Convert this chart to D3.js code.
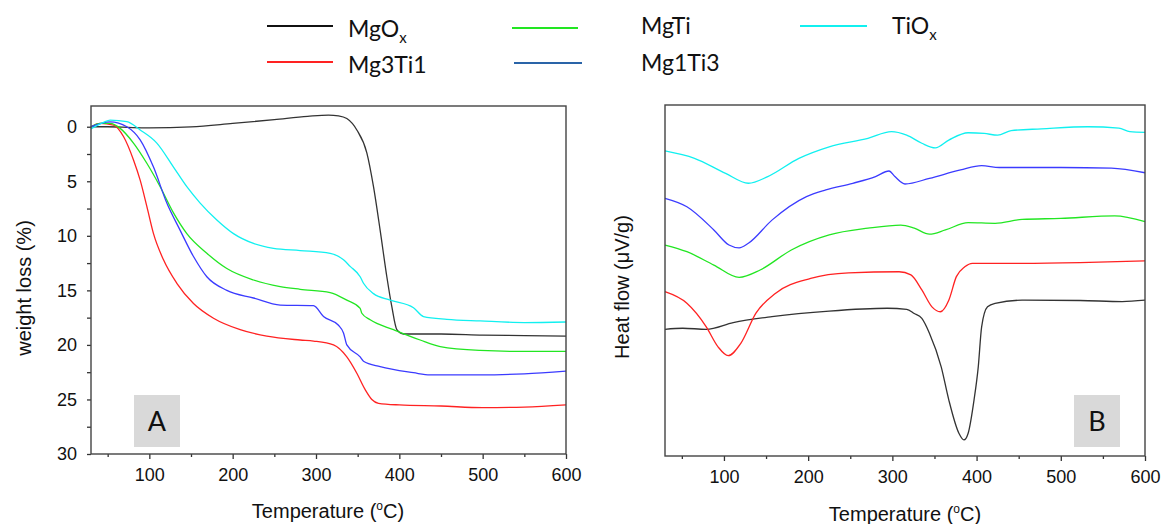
<!DOCTYPE html>
<html lang="en">
<head>
	<meta charset="UTF-8">
	<script src="https://cdn.jsdelivr.net/npm/d3@7"></script>
	<title>TGA / DSC</title>
	<style>
		body { margin: 0; background: #fff; }
		svg { display: block; }
		.tick text { font-family: "Liberation Sans", Arial, sans-serif; font-size: 18px; fill: #111; }
		.axis path, .axis line { stroke: #333; stroke-width: 1.3px; }
		.title { font-family: "Liberation Sans", Arial, sans-serif; font-size: 20px; fill: #111; }
		.legend text { font-family: Lato, "Open Sans", sans-serif; font-size: 23px; fill: #111; }
		.tag { font-family: Lato, "Open Sans", sans-serif; font-size: 27px; fill: #111; }
	</style>
</head>
<body>
<div id="chart"></div>
<script>
// series names and colours
const seriesNames = ['MgOx', 'Mg3Ti1', 'MgTi', 'Mg1Ti3', 'TiOx'];
const seriesColors = ['#333333', '#ff2222', '#22e622', '#3b3bff', '#11f0f0'];
const legendColors = ['#111111', '#ff2222', '#22e622', '#2a64a8', '#11f0f0'];

// panel A: weight loss (%) vs temperature, [T, value]
const tgaMgOx = [[30,0],[50,0],[80,0.08],[100,0.1],[150,0.02],[200,-0.3],[250,-0.65],[290,-0.95],[315,-1.07],[327,-1.0],[337,-0.75],[349,0.3],[361,2.4],[369,5.5],[377,9.5],[385,13.75],[391,16.5],[397,18.6],[405,19.0],[450,19.0],[500,19.1],[550,19.15],[600,19.2]];
const tgaMg3Ti1 = [[30,0],[41,-0.3],[57,-0.15],[69,0.9],[81,3.05],[89,4.9],[97,7.3],[105,9.8],[117,12.2],[133,14.35],[153,16.2],[177,17.55],[209,18.6],[241,19.2],[281,19.55],[297,19.65],[321,20.0],[337,21.1],[349,22.6],[359,24.1],[367,25.0],[375,25.35],[400,25.5],[450,25.6],[500,25.75],[550,25.7],[600,25.5]];
const tgaMgTi = [[30,0],[41,-0.3],[53,-0.3],[65,0.15],[81,1.5],[97,3.35],[113,5.5],[129,7.9],[145,9.8],[169,11.6],[193,13.0],[225,14.05],[257,14.65],[281,14.9],[317,15.2],[337,15.9],[353,16.65],[355,17.1],[365,17.7],[393,18.6],[425,19.55],[449,20.15],[497,20.5],[550,20.6],[600,20.6]];
const tgaMg1Ti3 = [[30,0],[53,-0.45],[73,0],[89,1.2],[105,3.7],[121,7.0],[137,9.5],[153,11.9],[169,13.75],[193,15.0],[225,15.7],[257,16.35],[297,16.4],[309,17.4],[327,18.2],[333,18.9],[337,20.0],[353,21.1],[357,21.5],[377,22.0],[417,22.55],[437,22.75],[497,22.75],[550,22.65],[600,22.4]];
const tgaTiOx = [[30,0.2],[45,-0.4],[53,-0.6],[73,-0.46],[89,0.3],[109,1.5],[129,3.7],[145,5.5],[161,7.0],[181,8.55],[201,9.8],[225,10.7],[249,11.15],[281,11.35],[317,11.6],[333,12.2],[341,12.8],[353,13.75],[357,14.35],[369,15.3],[389,15.9],[417,16.6],[429,17.4],[457,17.65],[497,17.8],[550,17.95],[600,17.9]];

// panel B: heat flow (arbitrary offset units), [T, value]
const dscMgOx = [[30,36.1],[51,36.4],[79,36.1],[111,38.0],[157,39.7],[225,41.3],[294,42.1],[317,41.8],[326,40.6],[335,39.2],[344,35.0],[358,25.4],[367,16.0],[379,6.5],[385,4.6],[390,6.5],[397,16.0],[402,25.4],[406,36.8],[413,42.5],[422,43.5],[454,44.4],[523,44.3],[573,44.0],[600,44.4]];
const dscMg3Ti1 = [[30,46.8],[56,43.5],[79,36.8],[93,31.1],[105,28.6],[120,32.1],[138,40.7],[161,46.3],[203,50.6],[248,52.2],[308,52.5],[322,51.6],[335,47.3],[347,42.5],[357,41.1],[367,44.4],[376,51.1],[386,53.9],[395,54.9],[454,54.9],[523,55.1],[600,55.6]];
const dscMgTi = [[30,60.1],[56,58.2],[88,54.4],[118,50.9],[143,53.0],[180,58.7],[225,63.0],[271,64.9],[310,65.8],[326,64.9],[344,63.2],[363,64.4],[390,66.5],[422,66.3],[454,67.4],[500,67.7],[564,68.4],[600,66.8]];
const dscMg1Ti3 = [[30,73.4],[56,71.0],[88,64.4],[106,60.1],[118,59.3],[129,60.6],[157,67.2],[198,73.9],[221,75.8],[253,77.7],[280,79.6],[296,81.2],[303,79.6],[315,77.5],[344,79.1],[381,81.5],[406,82.7],[427,82.2],[500,82.2],[560,82.0],[600,80.7]];
const dscTiOx = [[30,86.9],[65,84.8],[102,80.5],[129,77.7],[152,79.6],[189,84.8],[225,88.1],[271,90.5],[299,92.4],[317,91.4],[335,89.1],[351,87.8],[367,90.0],[390,92.1],[409,91.9],[425,91.4],[441,92.7],[477,93.2],[532,93.8],[569,93.4],[582,92.4],[600,92.2]];

const tgaSeries = [tgaMgOx, tgaMg3Ti1, tgaMgTi, tgaMg1Ti3, tgaTiOx];
const dscSeries = [dscMgOx, dscMg3Ti1, dscMgTi, dscMg1Ti3, dscTiOx];

const xTicks = [100, 200, 300, 400, 500, 600];
const xMinor = [50, 150, 250, 350, 450, 550];
const yTicksA = [0, 5, 10, 15, 20, 25, 30];
const yMinorA = [2.5, 7.5, 12.5, 17.5, 22.5, 27.5];

const width = 1164, height = 524;
const svg = d3.select('#chart').append('svg').attr('width', width).attr('height', height);

// scales
const xA = d3.scaleLinear().domain([30, 600]).range([91, 566]);
const yA = d3.scaleLinear().domain([-1.9, 30]).range([106, 454]);
const xB = d3.scaleLinear().domain([30, 600]).range([665, 1145]);
const yB = d3.scaleLinear().domain([0, 100]).range([456, 105]);

function frame(x, y) {
	svg.append('rect')
		.attr('x', x.range()[0]).attr('y', y.range()[1] < y.range()[0] ? y.range()[1] : y.range()[0])
		.attr('width', x.range()[1] - x.range()[0])
		.attr('height', Math.abs(y.range()[1] - y.range()[0]))
		.attr('fill', 'none').attr('stroke', '#444').attr('stroke-width', 1.4);
}

function xAxes(x, yPos) {
	svg.append('g').attr('class', 'axis')
		.attr('transform', `translate(0,${yPos})`)
		.call(d3.axisBottom(x).tickValues(xTicks).tickSize(5).tickSizeOuter(0).tickPadding(9).tickFormat(d3.format('d')))
		.call(g => g.select('.domain').remove());
	svg.append('g').attr('class', 'axis')
		.attr('transform', `translate(0,${yPos})`)
		.call(d3.axisBottom(x).tickValues(xMinor).tickSize(3).tickSizeOuter(0).tickFormat(''))
		.call(g => g.select('.domain').remove());
}

// label boxes
function tag(x0, letter) {
	svg.append('rect').attr('x', x0).attr('y', 395).attr('width', 46).attr('height', 52).attr('fill', '#d9d9d9');
	svg.append('text').attr('class', 'tag').attr('x', x0 + 23).attr('y', 431).attr('text-anchor', 'middle').text(letter);
}
tag(134, 'A');
tag(1074, 'B');

// ---- panel A
const lineA = d3.line().x(d => xA(d[0])).y(d => yA(d[1])).curve(d3.curveMonotoneX);
svg.append('g').selectAll('path').data(tgaSeries).enter().append('path')
	.attr('d', lineA).attr('fill', 'none')
	.attr('stroke', (d, i) => seriesColors[i]).attr('stroke-width', 1.3);

svg.append('g').attr('class', 'axis')
	.attr('transform', `translate(${xA.range()[0]},0)`)
	.call(d3.axisLeft(yA).tickValues(yTicksA).tickSize(4).tickPadding(10))
	.call(g => g.select('.domain').remove());
svg.append('g').attr('class', 'axis')
	.attr('transform', `translate(${xA.range()[0]},0)`)
	.call(d3.axisLeft(yA).tickValues(yMinorA).tickSize(4).tickFormat(''))
	.call(g => g.select('.domain').remove());
xAxes(xA, 454);
frame(xA, yA);

// ---- panel B
const lineB = d3.line().x(d => xB(d[0])).y(d => yB(d[1])).curve(d3.curveMonotoneX);
svg.append('g').selectAll('path').data(dscSeries).enter().append('path')
	.attr('d', lineB).attr('fill', 'none')
	.attr('stroke', (d, i) => seriesColors[i]).attr('stroke-width', 1.3);
xAxes(xB, 456);
frame(xB, yB);

// axis titles
function tempTitle(cx, y) {
	const t = svg.append('text').attr('class', 'title').attr('x', cx).attr('y', y).attr('text-anchor', 'middle');
	t.append('tspan').text('Temperature (');
	t.append('tspan').attr('dy', -8).style('font-size', '12px').text('o');
	t.append('tspan').attr('dy', 8).text('C)');
}
tempTitle(328, 518);
tempTitle(905, 521);

svg.append('text').attr('class', 'title')
	.attr('transform', 'translate(31,288) rotate(-90)').attr('text-anchor', 'middle')
	.text('weight loss (%)');
svg.append('text').attr('class', 'title')
	.attr('transform', 'translate(629,287) rotate(-90)').attr('text-anchor', 'middle')
	.text('Heat flow (\u03bcV/g)');

// legend
const legendPos = [
	{ x1: 267, x2: 333, ly: 26, tx: 348, ty: 37 },
	{ x1: 267, x2: 333, ly: 62, tx: 348, ty: 73 },
	{ x1: 512, x2: 578, ly: 28, tx: 641, ty: 34 },
	{ x1: 514, x2: 582, ly: 63, tx: 641, ty: 71 },
	{ x1: 800, x2: 867, ly: 26, tx: 892, ty: 34 }
];
const legend = svg.append('g').attr('class', 'legend');
seriesNames.forEach((name, i) => {
	const p = legendPos[i];
	legend.append('line').attr('x1', p.x1).attr('x2', p.x2).attr('y1', p.ly).attr('y2', p.ly)
		.attr('stroke', legendColors[i]).attr('stroke-width', 2);
	const t = legend.append('text').attr('x', p.tx).attr('y', p.ty);
	if (name.endsWith('Ox')) {
		t.append('tspan').text(name.slice(0, -1));
		t.append('tspan').attr('dy', 6).style('font-size', '15px').text('x');
	} else {
		t.text(name);
	}
});
</script>
</body>
</html>
